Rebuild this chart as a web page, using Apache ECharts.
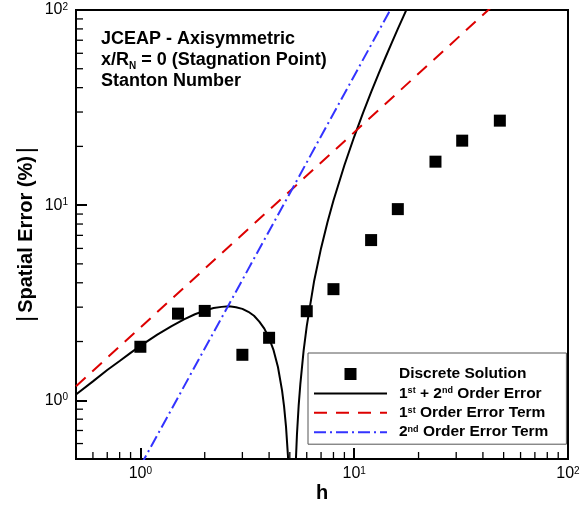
<!DOCTYPE html>
<html><head><meta charset="utf-8">
<script src="https://cdn.jsdelivr.net/npm/echarts@6/dist/echarts.min.js"></script>
<style>html,body{margin:0;padding:0;background:#fff}#c{width:584px;height:508px}</style>
</head><body><div id="c"></div>
<script>
// ---- data ----
const hData = [1, 1.5, 2, 3, 4, 6, 8, 12, 16, 24, 32, 48];
const discreteErr = [1.88, 2.78, 2.87, 1.71, 2.09, 2.86, 3.71, 6.62, 9.54, 16.7, 21.4, 27.1];

const curveH = [0.5,0.6,0.7,0.8,0.9,1,1.2,1.4,1.6,1.8,2,2.2,2.4,2.6,2.8,3,3.2,3.4,3.6,3.8,4,4.2,4.4,4.6,4.7,4.8,4.9,5,5.05,5.1,5.16,5.2,5.3,5.4,5.5,5.6,5.8,6,6.5,7,7.5,8,9,10,11,12,13,14,15,16,17,18];
const curveErr = [1.07,1.25,1.43,1.59,1.75,1.90,2.17,2.40,2.60,2.76,2.88,2.97,3.01,3.03,3.00,2.94,2.84,2.71,2.53,2.33,2.08,1.80,1.48,1.12,0.93,0.73,0.52,0.30,0.19,0.07,0.07,0.17,0.41,0.67,0.94,1.21,1.79,2.40,4.10,6.02,8.18,10.56,16.0,22.4,29.7,37.9,47.1,57.1,68.1,80.0,92.8,106.6];

const firstH = [0.5, 45];
const firstErr = [1.18, 106.2];
const secondH = [1, 15];
const secondErr = [0.46, 103.5];

const X_MIN = 0.5, X_MAX = 100, Y_MIN = 0.5, Y_MAX = 100;
const xMinorTicks = [0.6,0.7,0.8,0.9,2,3,4,5,6,7,8,9,20,30,40,50,60,70,80,90];
const yMinorTicks = [0.6,0.7,0.8,0.9,2,3,4,5,6,7,8,9,20,30,40,50,60,70,80,90];

const seriesNames = ['Discrete Solution', '1st + 2nd Order Error', '1st Order Error Term', '2nd Order Error Term'];
const legendLabels = {
  'Discrete Solution': 'Discrete Solution',
  '1st + 2nd Order Error': '1{sup|st} + 2{sup|nd} Order Error',
  '1st Order Error Term': '1{sup|st} Order Error Term',
  '2nd Order Error Term': '2{sup|nd} Order Error Term'
};

// ---- chart ----
const F = "'Liberation Sans', Arial, Helvetica, sans-serif";
const pairs = (xs, ys) => xs.map((x, i) => [x, ys[i]]);

function powLabel(v) {
  const l = Math.log10(v);
  const r = Math.round(l);
  if (Math.abs(l - r) > 1e-6) return '';
  return '{n|10}{sup|' + r + '}';
}
const labelRich = {
  n: {fontFamily: F, fontSize: 16, color: '#000'},
  sup: {fontFamily: F, fontSize: 10, color: '#000', verticalAlign: 'top'}
};

function tickSeries(vals, axis) {
  return {
    type: 'custom', silent: true, z: 10, clip: false,
    data: vals.map(v => axis === 'x' ? [v, Y_MIN] : [X_MIN, v]),
    renderItem: function (params, api) {
      const p = api.coord([api.value(0), api.value(1)]);
      const len = 7;
      const shape = axis === 'x'
        ? {x1: p[0], y1: p[1], x2: p[0], y2: p[1] - len}
        : {x1: p[0], y1: p[1], x2: p[0] + len, y2: p[1]};
      return {type: 'line', shape: shape, style: {stroke: '#000', lineWidth: 1.3}};
    }
  };
}

const axisCommon = {
  type: 'log', logBase: 10,
  axisLine: {show: true, lineStyle: {color: '#000', width: 2}},
  axisTick: {show: true, inside: true, length: 11, lineStyle: {color: '#000', width: 2}},
  minorTick: {show: false},
  splitLine: {show: false},
  minorSplitLine: {show: false}
};

const chart = echarts.init(document.getElementById('c'), null, {renderer: 'canvas'});
chart.setOption({
  animation: false,
  backgroundColor: '#fff',
  grid: {left: 76, right: 16, top: 10, bottom: 49, show: true, borderColor: '#000', borderWidth: 2, backgroundColor: 'transparent'},
  title: {
    left: 101, top: 29, padding: 0,
    text: '{b|JCEAP - Axisymmetric}\n{b|x/R}{sub|N}{b| = 0 (Stagnation Point)}\n{b|Stanton Number}',
    textStyle: {
      fontFamily: F, fontSize: 18, fontWeight: 'bold', color: '#000', lineHeight: 21,
      rich: {
        b: {fontFamily: F, fontSize: 18, fontWeight: 'bold', color: '#000', lineHeight: 21},
        sub: {fontFamily: F, fontSize: 10, fontWeight: 'bold', color: '#000', verticalAlign: 'bottom'}
      }
    }
  },
  xAxis: Object.assign({}, axisCommon, {
    min: X_MIN, max: X_MAX,
    name: 'h', nameLocation: 'middle', nameGap: 24, nameMoveOverlap: false,
    nameTextStyle: {fontFamily: F, fontSize: 20, fontWeight: 'bold', color: '#000'},
    axisLabel: {formatter: powLabel, rich: labelRich, margin: 7, color: '#000', fontFamily: F, fontSize: 16}
  }),
  yAxis: Object.assign({}, axisCommon, {
    min: Y_MIN, max: Y_MAX,
    name: '{bar||}{t|Spatial Error (%)}{bar||}', nameLocation: 'middle', nameGap: 38, nameRotate: 90,
    nameMoveOverlap: false,
    nameTextStyle: {
      fontFamily: F, fontSize: 20, fontWeight: 'bold', color: '#000',
      rich: {
        t: {fontFamily: F, fontSize: 20, fontWeight: 'bold', color: '#000'},
        bar: {fontFamily: F, fontSize: 24, fontWeight: 'normal', color: '#000', padding: [0, 3, 0, 3]}
      }
    },
    axisLabel: {formatter: powLabel, rich: labelRich, margin: 8, color: '#000', fontFamily: F, fontSize: 16}
  }),
  legend: {
    orient: 'vertical', left: 308, top: 353,
    padding: [13, 18, 4, 5],
    itemWidth: 73, itemHeight: 12, itemGap: 3.4,
    symbolKeepAspect: true,
    borderColor: '#555', borderWidth: 1, backgroundColor: '#fff',
    selectedMode: false,
    data: [
      {name: seriesNames[0], icon: 'path://M0,0L10,0L10,10L0,10Z'},
      {name: seriesNames[1], itemStyle: {opacity: 0}},
      {name: seriesNames[2], itemStyle: {opacity: 0}},
      {name: seriesNames[3], itemStyle: {opacity: 0}}
    ],
    formatter: n => legendLabels[n],
    textStyle: {
      fontFamily: F, fontSize: 15.5, fontWeight: 'bold', color: '#000', lineHeight: 14, padding: [0, 0, 0, 7],
      rich: {sup: {fontFamily: F, fontSize: 9, fontWeight: 'bold', color: '#000', verticalAlign: 'top'}}
    }
  },
  series: [
    {
      name: seriesNames[1], type: 'line', symbol: 'none', clip: true, z: 3,
      data: pairs(curveH, curveErr),
      lineStyle: {color: '#000', width: 2}, itemStyle: {color: '#000'}
    },
    {
      name: seriesNames[2], type: 'line', symbol: 'none', clip: true, z: 3,
      data: pairs(firstH, firstErr),
      lineStyle: {color: '#dd0000', width: 2, type: [13, 9]}, itemStyle: {color: '#dd0000'}
    },
    {
      name: seriesNames[3], type: 'line', symbol: 'none', clip: true, z: 3,
      data: pairs(secondH, secondErr),
      lineStyle: {color: '#3333ff', width: 2, type: [12, 4, 2, 4]}, itemStyle: {color: '#3333ff'}
    },
    {
      name: seriesNames[0], type: 'scatter', symbol: 'rect', symbolSize: 12, z: 5,
      data: pairs(hData, discreteErr),
      itemStyle: {color: '#000', opacity: 1}
    },
    tickSeries(xMinorTicks, 'x'),
    tickSeries(yMinorTicks, 'y')
  ]
});
</script></body></html>
